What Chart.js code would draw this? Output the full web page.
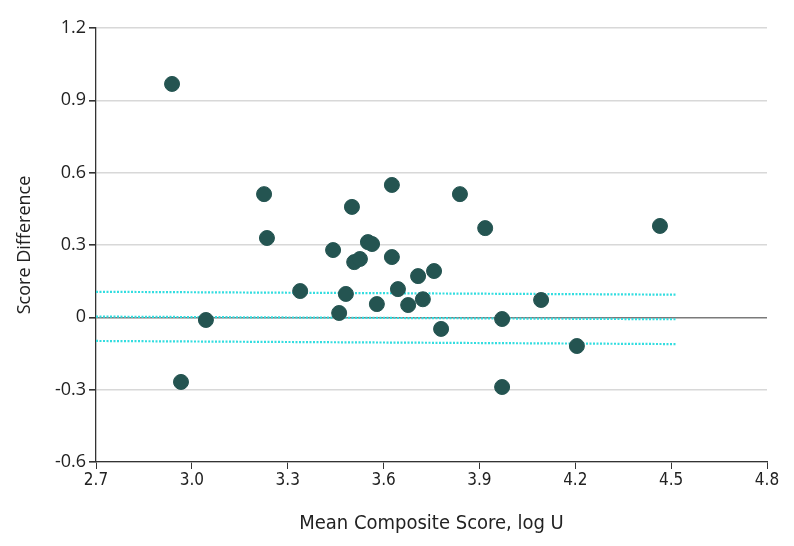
<!DOCTYPE html>
<html>
<head>
<meta charset="utf-8">
<script src="https://cdn.jsdelivr.net/npm/chart.js@4"></script>
<style>
  html, body { margin: 0; padding: 0; background: #fff; }
  #wrap { width: 794px; height: 546px; }
</style>
</head>
<body>
<div id="wrap"><canvas id="chart" width="794" height="546"></canvas></div>
<script>
// mean composite score (log U) vs score difference
const meanScore = [2.938, 2.966, 3.044, 3.226, 3.235, 3.339, 3.442, 3.461, 3.482, 3.501,
  3.508, 3.526, 3.551, 3.564, 3.579, 3.626, 3.626, 3.645, 3.677, 3.708,
  3.723, 3.758, 3.780, 3.839, 3.918, 3.971, 3.971, 4.093, 4.205, 4.465];
const scoreDiff = [0.968, -0.268, -0.011, 0.511, 0.329, 0.109, 0.279, 0.018, 0.097, 0.458,
  0.229, 0.242, 0.312, 0.304, 0.055, 0.549, 0.250, 0.117, 0.051, 0.171,
  0.075, 0.192, -0.048, 0.511, 0.370, -0.007, -0.289, 0.072, -0.119, 0.379];

// dotted fitted line and its bounds (x ends + y at each end)
const lineX = [2.70, 4.515];
const fitMid = [0.003, -0.008];
const fitUpper = [0.106, 0.094];
const fitLower = [-0.098, -0.111];

const xTicks = [2.7, 3.0, 3.3, 3.6, 3.9, 4.2, 4.5, 4.8];
const yTicks = [-0.6, -0.3, 0, 0.3, 0.6, 0.9, 1.2];

const pts = meanScore.map((x, i) => ({ x: x, y: scoreDiff[i] }));
const toLine = ys => lineX.map((x, i) => ({ x: x, y: ys[i] }));

const NARROW = "'DejaVu Sans Condensed', 'Liberation Sans Narrow', Roboto, sans-serif";

const dotted = (ys) => ({
  type: 'line',
  data: toLine(ys),
  borderColor: '#33dde0',
  borderWidth: 2.2,
  borderDash: [2, 1.5],
  pointRadius: 0,
  fill: false,
  order: 2
});

new Chart(document.getElementById('chart').getContext('2d'), {
  type: 'scatter',
  data: {
    datasets: [
      {
        data: pts,
        backgroundColor: '#245451',
        borderColor: '#245451',
        pointRadius: 7.5,
        pointHoverRadius: 7.5,
        order: 1
      },
      dotted(fitUpper),
      dotted(fitMid),
      dotted(fitLower)
    ]
  },
  options: {
    responsive: false,
    animation: false,
    devicePixelRatio: 1,
    layout: { padding: { top: 28, right: 27, bottom: 0, left: 0 } },
    plugins: { legend: { display: false }, tooltip: { enabled: false } },
    scales: {
      x: {
        type: 'linear',
        min: 2.7,
        max: 4.8,
        afterBuildTicks: s => { s.ticks = xTicks.map(v => ({ value: v })); },
        afterFit: s => { s.height = 84; },
        grid: { drawOnChartArea: false, drawTicks: true, tickLength: 7, tickColor: '#333' },
        border: { color: '#333', width: 1.3 },
        ticks: {
          color: '#222', padding: 1,
          font: { family: NARROW, size: 17 },
          callback: v => v.toFixed(1)
        },
        title: {
          display: true, text: 'Mean Composite Score, log U', color: '#222',
          font: { family: NARROW, size: 20 },
          padding: { top: 4, bottom: 10 }
        }
      },
      y: {
        type: 'linear',
        min: -0.6,
        max: 1.2,
        afterBuildTicks: s => { s.ticks = yTicks.map(v => ({ value: v })); },
        afterFit: s => { s.width = 96; },
        grid: {
          drawTicks: true, tickLength: 7, tickColor: '#333',
          color: c => (c.tick && c.tick.value === 0) ? '#7a7a7a' : '#d8d8d8',
          lineWidth: 1.6
        },
        border: { color: '#333', width: 1.3 },
        ticks: {
          color: '#222', padding: 3,
          font: { family: 'Open Sans', size: 18 },
          callback: v => v === 0 ? '0' : v.toFixed(1)
        },
        title: {
          display: true, text: 'Score Difference', color: '#222',
          font: { family: 'Open Sans', size: 18 },
          padding: { top: 14, bottom: 2 }
        }
      }
    }
  }
});
</script>
</body>
</html>
